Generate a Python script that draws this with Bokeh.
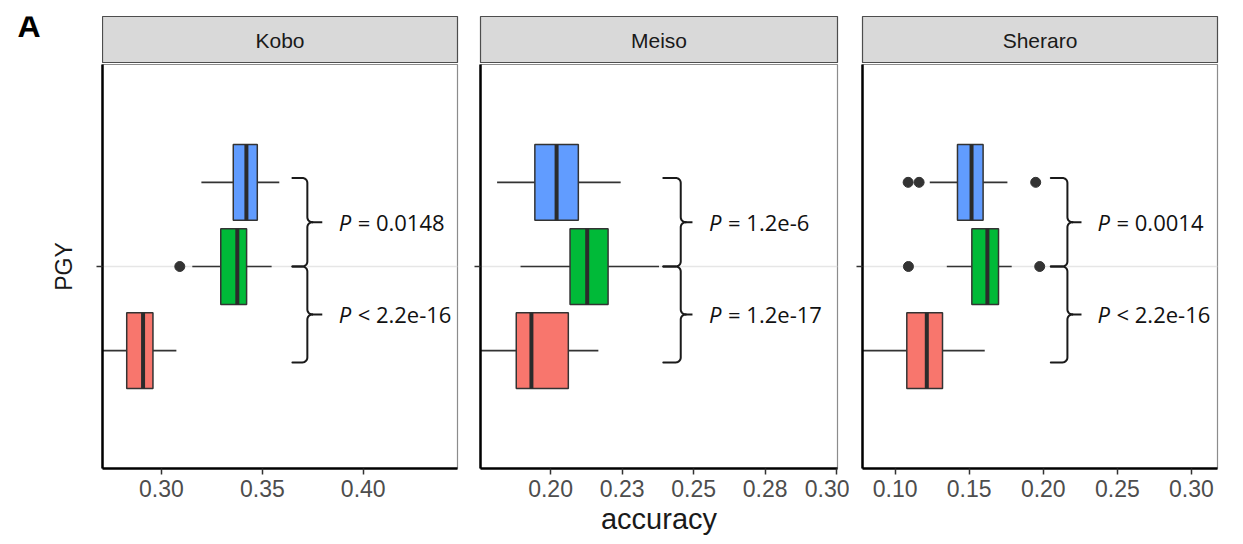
import math
from bokeh.plotting import figure
from bokeh.layouts import row, column
from bokeh.models import Range1d, FixedTicker
from bokeh.core.properties import value
from bokeh.embed import file_html
from bokeh.resources import INLINE

# ---------------- data ----------------
panels = ["Kobo", "Meiso", "Sheraro"]
group_colors = ["#619CFF", "#00BA38", "#F8766D"]   # top, middle, bottom groups

kobo_q1 = [0.3356, 0.3294, 0.2828]
kobo_med = [0.3421, 0.3376, 0.2909]
kobo_q3 = [0.3475, 0.3422, 0.2958]
kobo_lo = [0.3198, 0.3153, 0.2650]
kobo_hi = [0.3584, 0.3546, 0.3074]
kobo_out_grp = [1]
kobo_out_val = [0.3091]

meiso_q1 = [0.1945, 0.2068, 0.1880]
meiso_med = [0.2021, 0.2128, 0.1933]
meiso_q3 = [0.2097, 0.2201, 0.2062]
meiso_lo = [0.1813, 0.1895, 0.1700]
meiso_hi = [0.2245, 0.2379, 0.2167]
meiso_out_grp = []
meiso_out_val = []

sheraro_q1 = [0.1421, 0.1518, 0.1079]
sheraro_med = [0.1516, 0.1623, 0.1214]
sheraro_q3 = [0.1594, 0.1698, 0.1320]
sheraro_lo = [0.1234, 0.1349, 0.0720]
sheraro_hi = [0.1758, 0.1787, 0.1605]
sheraro_out_grp = [0, 0, 0, 1, 1]
sheraro_out_val = [0.1088, 0.1162, 0.1949, 0.1090, 0.1976]

kobo_ticks = [0.30, 0.35, 0.40]
kobo_tick_labels = ["0.30", "0.35", "0.40"]
meiso_ticks = [0.20, 0.225, 0.25, 0.275, 0.30]
meiso_tick_labels = ["0.20", "0.23", "0.25", "0.28", "0.30"]
sheraro_ticks = [0.10, 0.15, 0.20, 0.25, 0.30]
sheraro_tick_labels = ["0.10", "0.15", "0.20", "0.25", "0.30"]

p_top = ["= 0.0148", "= 1.2e-6", "= 0.0014"]
p_bottom = ["< 2.2e-16", "= 1.2e-17", "< 2.2e-16"]

# ---------------- layout / annotation placement ----------------
x_ranges = [(0.2708, 0.4467), (0.1755, 0.3003), (0.078, 0.3176)]
Y_RANGE = (0.4, 1.6)
brace_arm = [0.3649, 0.2394, 0.2051]
brace_vert = [0.3723, 0.2455, 0.2163]
brace_tip = [0.3797, 0.2496, 0.2258]
label_x = [0.3878, 0.2554, 0.2366]
brace_top, brace_mid, brace_bot = 1.263, 1.0, 0.715

borders = [(102, 11), (12, 12), (13, 10)]
frame_w = [355, 357, 355]
FRAME_H = 404
PANEL_H = 480
STRIP_H = 63
STRIP_TOP = 16

FONT = "Liberation Sans"
DARK = "#333333"
INK = "#1a1a1a"

data = [
    (kobo_q1, kobo_med, kobo_q3, kobo_lo, kobo_hi, kobo_out_grp, kobo_out_val, kobo_ticks, kobo_tick_labels),
    (meiso_q1, meiso_med, meiso_q3, meiso_lo, meiso_hi, meiso_out_grp, meiso_out_val, meiso_ticks, meiso_tick_labels),
    (sheraro_q1, sheraro_med, sheraro_q3, sheraro_lo, sheraro_hi, sheraro_out_grp, sheraro_out_val, sheraro_ticks, sheraro_tick_labels),
]

def group_y(i):
    # dodged positions around the single category "PGY" (at y = 1)
    return 1.0 + (1 - i) * 0.25

BOX_H = 0.225


def arc(cx, cy, rx, ry, a0, a1, n=7):
    pts = []
    for j in range(n + 1):
        a = math.radians(a0 + (a1 - a0) * j / n)
        pts.append((cx + rx * math.cos(a), cy + ry * math.sin(a)))
    return pts


def brace(a, v, t, y0, y1, rx, ry):
    """Curly brace '}' from y0 (top) to y1 (bottom): returns two paths and the tip segment."""
    ym = (y0 + y1) / 2
    up = [(a, y0)] + arc(v - rx, y0 - ry, rx, ry, 90, 0) + arc(v + rx, ym + ry, rx, ry, 180, 270)
    lo = arc(v + rx, ym - ry, rx, ry, 90, 180) + arc(v - rx, y1 + ry, rx, ry, 0, -90) + [(a, y1)]
    return up, lo, ((v + rx, ym), (t, ym))


panel_figs = []
strip_figs = []
for k, name in enumerate(panels):
    q1, med, q3, lo, hi, og, ov, ticks, tlabels = data[k]
    bl, br = borders[k]
    W = bl + frame_w[k] + br
    p = figure(width=W, height=PANEL_H, x_range=Range1d(*x_ranges[k]), y_range=Range1d(*Y_RANGE),
               toolbar_location=None, output_backend="svg",
               min_border_left=bl, min_border_right=br, min_border_top=1,
               min_border_bottom=PANEL_H - 1 - FRAME_H)
    p.outline_line_color = "#8c8c8c"
    p.outline_line_width = 1.2
    p.background_fill_color = "white"
    p.xgrid.visible = False
    p.ygrid.ticker = FixedTicker(ticks=[1.0])
    p.ygrid.grid_line_color = "#e6e6e6"
    p.ygrid.grid_line_width = 1.5

    ys = [group_y(i) for i in range(3)]
    # whiskers
    p.segment(x0=lo, y0=ys, x1=q1, y1=ys, line_color=DARK, line_width=1.7)
    p.segment(x0=q3, y0=ys, x1=hi, y1=ys, line_color=DARK, line_width=1.7)
    # boxes
    p.hbar(y=ys, left=q1, right=q3, height=BOX_H, fill_color=group_colors, line_color=DARK, line_width=1.5)
    # medians
    p.segment(x0=med, y0=[y - BOX_H / 2 for y in ys], x1=med, y1=[y + BOX_H / 2 for y in ys],
              line_color="#2b2b2b", line_width=4)
    # outliers
    if ov:
        p.scatter(x=ov, y=[group_y(g) for g in og], size=10, fill_color=DARK, line_color=DARK)

    # braces (corner radius ~5 px converted to data units)
    x_per_px = (x_ranges[k][1] - x_ranges[k][0]) / frame_w[k]
    y_per_px = (Y_RANGE[1] - Y_RANGE[0]) / FRAME_H
    rx, ry = 5 * x_per_px, 5 * y_per_px
    a, v, t = brace_arm[k], brace_vert[k], brace_tip[k]
    xs_all, ys_all, tips = [], [], []
    for (y0, y1) in ((brace_top, brace_mid), (brace_mid, brace_bot)):
        up, lw_, tip = brace(a, v, t, y0, y1, rx, ry)
        for path in (up, lw_):
            xs_all.append([pt[0] for pt in path])
            ys_all.append([pt[1] for pt in path])
        tips.append(tip)
    p.multi_line(xs=xs_all, ys=ys_all, line_color=INK, line_width=2, line_join="round", line_cap="round")
    p.segment(x0=[tp[0][0] for tp in tips], y0=[tp[0][1] for tp in tips],
              x1=[tp[1][0] for tp in tips], y1=[tp[1][1] for tp in tips], line_color=INK, line_width=2)
    m1 = (brace_top + brace_mid) / 2
    m2 = (brace_mid + brace_bot) / 2
    # p-value labels
    p.text(x=[label_x[k]] * 2, y=[m1, m2], text=["P", "P"], text_font=value("Open Sans"),
           text_font_style="italic", text_font_size="22px", text_color="#111111",
           text_align="left", text_baseline="middle")
    p.text(x=[label_x[k]] * 2, y=[m1, m2], text=[p_top[k], p_bottom[k]], x_offset=19,
           text_font=value("Open Sans"), text_font_size="22px", text_color="#111111",
           text_align="left", text_baseline="middle")

    # axes
    p.xaxis.ticker = FixedTicker(ticks=ticks)
    p.xaxis.major_label_overrides = {tv: tl for tv, tl in zip(ticks, tlabels)}
    p.yaxis.ticker = FixedTicker(ticks=[1.0])
    p.yaxis.major_label_overrides = {1: ""}
    p.yaxis.major_label_text_font_size = "1px"
    p.yaxis.major_label_standoff = 0
    for ax in (p.xaxis[0], p.yaxis[0]):
        ax.axis_line_color = "black"
        ax.axis_line_width = 2.5
        ax.major_tick_line_color = DARK
        ax.major_tick_line_width = 1.5
        ax.major_tick_out = 6
        ax.major_tick_in = 0
        ax.minor_tick_line_color = None
    p.xaxis.major_label_text_font = FONT
    p.xaxis.major_label_text_font_size = "23px"
    p.xaxis.major_label_text_color = "#4d4d4d"
    p.xaxis.major_label_standoff = 5
    if k == 0:
        p.yaxis.axis_label = "PGY"
        p.yaxis.axis_label_text_font = FONT
        p.yaxis.axis_label_text_font_size = "23px"
        p.yaxis.axis_label_text_font_style = "normal"
        p.yaxis.axis_label_text_color = INK
        p.yaxis.axis_label_standoff = 20
    if k == 1:
        p.xaxis.axis_label = "accuracy"
        p.xaxis.axis_label_text_font = FONT
        p.xaxis.axis_label_text_font_size = "29px"
        p.xaxis.axis_label_text_font_style = "normal"
        p.xaxis.axis_label_text_color = INK
        p.xaxis.axis_label_standoff = 3
    panel_figs.append(p)

    # strip
    sl = 0 if k == 0 else bl
    sw = (W - bl) if k == 0 else W
    s = figure(width=sw, height=STRIP_H, x_range=Range1d(0, 1), y_range=Range1d(0, 1),
               x_axis_type=None, y_axis_type=None, toolbar_location=None, output_backend="svg",
               min_border_left=sl, min_border_right=br, min_border_top=STRIP_TOP, min_border_bottom=0)
    s.grid.visible = False
    s.background_fill_color = "#d9d9d9"
    s.outline_line_color = "#4d4d4d"
    s.outline_line_width = 1.2
    s.text(x=[0.5], y=[0.5], text=[name], text_font=value(FONT), text_font_size="21px",
           text_color=INK, text_align="center", text_baseline="middle")
    strip_figs.append(s)

figA = figure(width=borders[0][0], height=STRIP_H, x_range=Range1d(0, 1), y_range=Range1d(0, 1),
              x_axis_type=None, y_axis_type=None, toolbar_location=None, output_backend="svg",
              min_border=0)
figA.grid.visible = False
figA.outline_line_color = None
figA.text(x=[0.28], y=[0.80], text=["A"], text_font=value(FONT), text_font_style="bold",
          text_font_size="32px", text_color="black", text_align="center", text_baseline="middle")

layout = column(row(figA, *strip_figs), row(*panel_figs))
open("out.html", "w").write(file_html(layout, INLINE))
